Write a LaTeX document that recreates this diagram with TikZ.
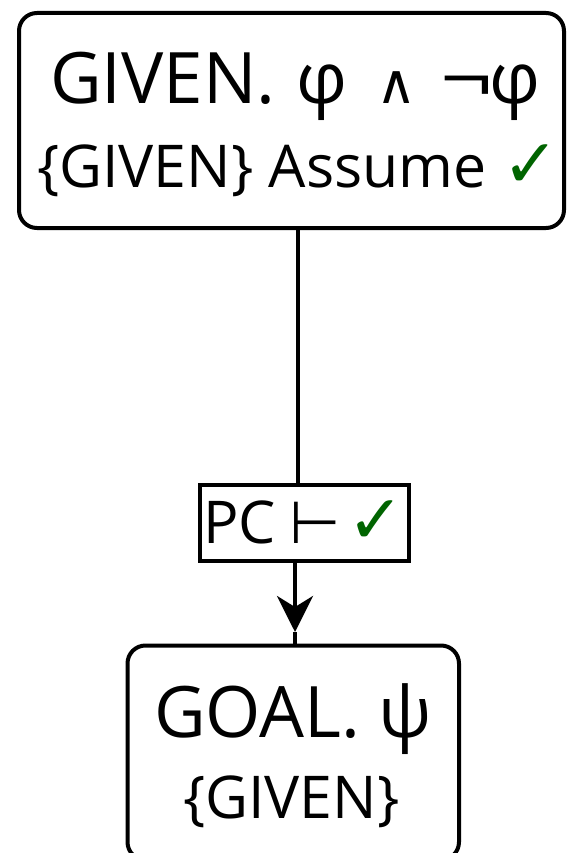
\documentclass[tikz,border=0pt]{standalone}
\usepackage{fontspec}
\setmainfont{Open Sans}
\newfontfamily\symf{DejaVu Sans}
\newfontfamily\symb{DejaVu Sans Bold}
\usetikzlibrary{arrows.meta}
\definecolor{chk}{RGB}{0,100,0}
\begin{document}
\begin{tikzpicture}[x=1pt,y=-1pt, line width=4pt,
  box/.style={draw, rounded corners=18pt, fill=white, inner sep=0pt},
  lblbox/.style={draw, fill=white, inner sep=0pt},
  txt/.style={anchor=base west, inner sep=0pt},
  big/.style={font=\fontsize{71}{80}\selectfont},
  small/.style={font=\fontsize{59}{66}\selectfont}]
\useasboundingbox (0,0) rectangle (566,853);
\clip (0,0) rectangle (566,853);
\node[box, minimum width=545pt, minimum height=215pt] (given) at (291.5,120.5) {};
\node[box, minimum width=331.5pt, minimum height=214.5pt] (goal) at (293.25,752.75) {};
\node[lblbox, minimum width=209pt, minimum height=76.5pt] (lbl) at (304.5,522.75) {};
\coordinate (xa) at (298,0);
\coordinate (xb) at (295,0);
\coordinate (tip) at (295,632);
\draw (given.south -| xa) -- (lbl.north -| xa);
\draw[-{Stealth[length=36pt,width=36pt,inset=11pt]}] (lbl.south -| xb) -- (tip);
\draw (tip) -- (goal.north -| xb);
\node[txt,big] (g1) at (48,104) {\makebox[247pt][l]{GIVEN.}\makebox[79.5pt][l]{φ}\makebox[64pt][l]{\symf\fontsize{55}{60}\selectfont ∧}\makebox[48.5pt][l]{\scalebox{1.3}[1]{¬}}φ};
\node[txt,small] (g2) at (35,187) {\{GIVEN\} Assume {\symb\fontsize{68}{70}\selectfont\color{chk}✓}};
\node[txt,small] (l1) at (201,543) {PC\hspace{14pt}{\symf ⊢}\hspace{6pt}{\symb\fontsize{68}{70}\selectfont\color{chk}✓}};
\node[txt,big] (o1) at (152,737) {GOAL. ψ};
\node[txt,small] (o2) at (181,818) {\{GIVEN\}};
\end{tikzpicture}
\end{document}
